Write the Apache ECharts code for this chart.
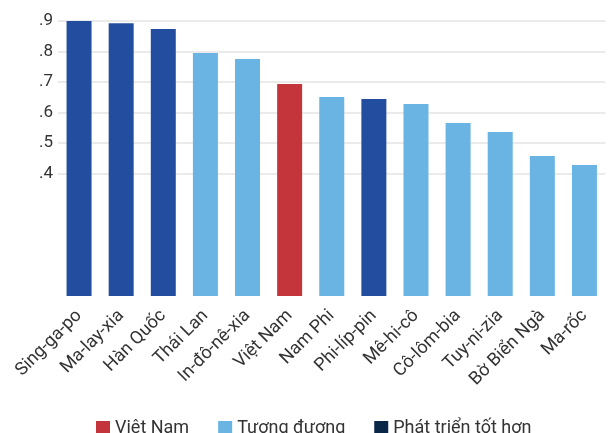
<!DOCTYPE html>
<html>
<head>
<meta charset="utf-8">
<script src="https://cdn.jsdelivr.net/npm/echarts@6/dist/echarts.min.js"></script>
<style>html,body{margin:0;padding:0;background:#fff;}#c{width:609px;height:433px;}</style>
</head>
<body>
<div id="c"></div>
<script>
const categories = ["Sing-ga-po","Ma-lay-xia","Hàn Quốc","Thái Lan","In-đô-nê-xia","Việt Nam","Nam Phi","Phi-líp-pin","Mê-hi-cô","Cô-lôm-bia","Tuy-ni-zia","Bờ Biển Ngà","Ma-rốc"];
const values = [0.900,0.893,0.874,0.795,0.776,0.694,0.651,0.645,0.628,0.566,0.537,0.458,0.429];
const groups = ["Phát triển tốt hơn","Phát triển tốt hơn","Phát triển tốt hơn","Tương đương","Tương đương","Việt Nam","Tương đương","Phát triển tốt hơn","Tương đương","Tương đương","Tương đương","Tương đương","Tương đương"];
const legendNames = ["Việt Nam","Tương đương","Phát triển tốt hơn"];
const gridTicks = [0.4,0.5,0.6,0.7,0.8,0.9];

const barColors = {"Việt Nam":"#C3343B","Tương đương":"#69B4E3","Phát triển tốt hơn":"#234EA0"};
const legendColors = {"Việt Nam":"#C3343B","Tương đương":"#69B4E3","Phát triển tốt hơn":"#0B2748"};

const series = legendNames.map((name, si) => ({
  name: name,
  type: 'bar',
  stack: 'all',
  barWidth: 25,
  itemStyle: {color: barColors[name]},
  data: values.map((v, i) => groups[i] === name ? v : null),
  markLine: si === 0 ? {
    silent: true,
    symbol: 'none',
    label: {show: false},
    lineStyle: {color: '#e4e4e4', type: 'solid', width: 1.5},
    z: 0,
    data: gridTicks.map(t => ({yAxis: t}))
  } : undefined,
  z: 2
}));

const chart = echarts.init(document.getElementById('c'), null, {renderer: 'canvas'});
chart.setOption({
  animation: false,
  textStyle: {fontFamily: 'Roboto'},
  grid: {left: 58, right: 3.5, top: 21, bottom: 137, containLabel: false},
  xAxis: {
    type: 'category',
    data: categories,
    axisLine: {show: false},
    axisTick: {show: false},
    axisLabel: {rotate: 45, interval: 0, fontSize: 18, color: '#333', margin: 17, fontFamily: 'Roboto'}
  },
  yAxis: {
    type: 'value',
    min: 0, max: 0.9, interval: 0.1,
    splitLine: {show: false},
    axisLine: {show: false},
    axisTick: {show: false},
    axisLabel: {
      fontSize: 17, color: '#333', margin: 5, fontFamily: 'Roboto',
      formatter: v => v >= 0.35 ? ('.' + Math.round(v * 10)) : ''
    }
  },
  legend: {
    top: 414,
    left: 91,
    itemWidth: 14, itemHeight: 14, itemGap: 29,
    icon: 'rect',
    textStyle: {fontSize: 18, color: '#333', fontFamily: 'Roboto'},
    data: legendNames.map(n => ({name: n, itemStyle: {color: legendColors[n]}}))
  },
  series: series
});
</script>
</body>
</html>
